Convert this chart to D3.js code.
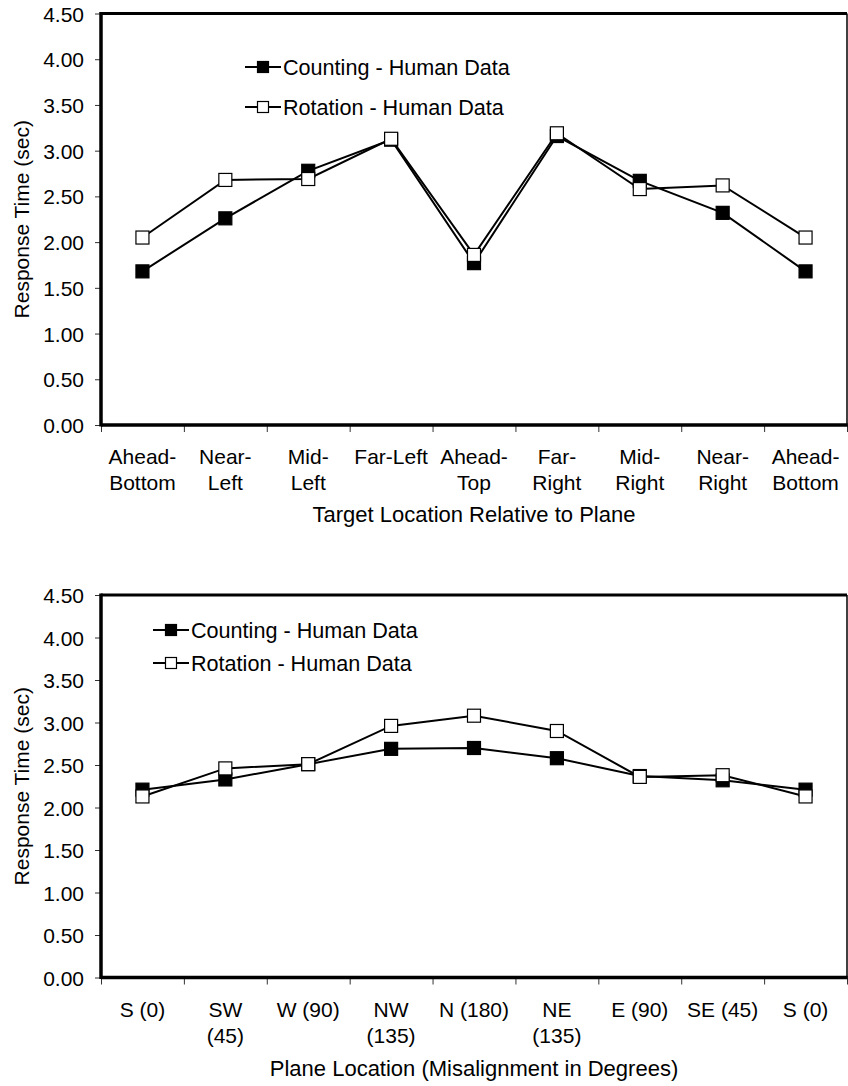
<!DOCTYPE html>
<html>
<head>
<meta charset="utf-8">
<script src="https://cdn.jsdelivr.net/npm/d3@7"></script>
<style>
  html, body { margin: 0; padding: 0; background: #fff; }
  svg { display: block; }
  text { font-family: "Liberation Sans", Arial, Helvetica, sans-serif; fill: #000; }
</style>
</head>
<body>
<svg id="chart" width="848" height="1086"></svg>
<script>
// Response-time data (seconds) for the two strategies
const targetLocations = [
  ["Ahead-", "Bottom"], ["Near-", "Left"], ["Mid-", "Left"], ["Far-Left"],
  ["Ahead-", "Top"], ["Far-", "Right"], ["Mid-", "Right"], ["Near-", "Right"], ["Ahead-", "Bottom"]
];
const countingByTarget = [1.68, 2.26, 2.78, 3.12, 1.77, 3.16, 2.67, 2.32, 1.68];
const rotationByTarget = [2.05, 2.68, 2.69, 3.13, 1.86, 3.19, 2.58, 2.62, 2.05];

const planeLocations = [
  ["S (0)"], ["SW", "(45)"], ["W (90)"], ["NW", "(135)"], ["N (180)"],
  ["NE", "(135)"], ["E (90)"], ["SE (45)"], ["S (0)"]
];
const countingByPlane = [2.21, 2.33, 2.51, 2.69, 2.70, 2.58, 2.37, 2.32, 2.21];
const rotationByPlane = [2.13, 2.46, 2.51, 2.96, 3.08, 2.90, 2.36, 2.38, 2.13];

const yTicks = [0, 0.5, 1, 1.5, 2, 2.5, 3, 3.5, 4, 4.5];
const seriesNames = ["Counting - Human Data", "Rotation - Human Data"];
const yTitle = "Response Time (sec)";
const xTitleTop = "Target Location Relative to Plane";
const xTitleBottom = "Plane Location (Misalignment in Degrees)";

const svg = d3.select("#chart");
const FS = 21;        // tick and category labels
const FS_TITLE = 22;  // x-axis titles
const FS_LEGEND = 21.6;

function drawPanel(opts) {
  const left = 101, right = 847;
  const { top, bottom, cats, counting, rotation, legendX, legendY, legendGap,
          labelY, labelGap, titleY, xTitle } = opts;
  const g = svg.append("g");

  const x = d3.scaleLinear().domain([0, cats.length]).range([left, right]);
  const y = d3.scaleLinear().domain([0, 4.5]).range([bottom, top]);

  // y axis ticks and labels
  const yAxis = d3.axisLeft(y).tickValues(yTicks).tickFormat(d3.format(".2f")).tickSize(6).tickSizeOuter(0);
  const ya = g.append("g").attr("transform", `translate(${left},0)`).call(yAxis);
  ya.select(".domain").remove();
  ya.selectAll(".tick line").attr("stroke", "#333").attr("stroke-width", 1);
  ya.selectAll(".tick text").attr("x", -17).attr("dy", "0.36em")
    .style("font-size", FS + "px").style("font-family", "Liberation Sans, Arial, sans-serif");

  // x axis ticks at category boundaries
  const xAxis = d3.axisBottom(x).tickValues(d3.range(0, cats.length + 1)).tickFormat("").tickSize(7).tickSizeOuter(0);
  const xa = g.append("g").attr("transform", `translate(0,${bottom})`).call(xAxis);
  xa.select(".domain").remove();
  xa.selectAll(".tick line").attr("stroke", "#333").attr("stroke-width", 1);

  // category labels (one or two lines each)
  const lab = g.append("g");
  cats.forEach((lines, i) => {
    const t = lab.append("text").attr("text-anchor", "middle")
      .attr("x", x(i + 0.5)).attr("y", labelY).style("font-size", FS + "px");
    lines.forEach((ln, k) => {
      t.append("tspan").attr("x", x(i + 0.5)).attr("y", labelY + k * labelGap).text(ln);
    });
  });

  // frame
  g.append("line").attr("x1", left).attr("x2", right).attr("y1", top).attr("y2", top)
    .attr("stroke", "#000").attr("stroke-width", 3);
  g.append("line").attr("x1", right).attr("x2", right).attr("y1", top).attr("y2", bottom)
    .attr("stroke", "#000").attr("stroke-width", 1.5);
  g.append("line").attr("x1", left).attr("x2", left).attr("y1", top - 1.5).attr("y2", bottom + 1.5)
    .attr("stroke", "#000").attr("stroke-width", 3.5);
  g.append("line").attr("x1", left).attr("x2", right + 0.75).attr("y1", bottom).attr("y2", bottom)
    .attr("stroke", "#000").attr("stroke-width", 3.5);

  // axis titles
  g.append("text").attr("text-anchor", "middle")
    .attr("transform", `translate(29,${(top + bottom) / 2}) rotate(-90)`)
    .style("font-size", FS + "px").text(yTitle);
  g.append("text").attr("text-anchor", "middle").attr("x", (left + right) / 2).attr("y", titleY)
    .style("font-size", FS_TITLE + "px").text(xTitle);

  // series
  const line = d3.line().x((d, i) => x(i + 0.5)).y(d => y(d));
  const series = [
    { values: counting, fill: "#000" },
    { values: rotation, fill: "#fff" }
  ];
  const M = 13;
  series.forEach(s => {
    g.append("path").datum(s.values).attr("d", line)
      .attr("fill", "none").attr("stroke", "#000").attr("stroke-width", 2);
    g.append("g").selectAll("rect").data(s.values).join("rect")
      .attr("x", (d, i) => x(i + 0.5) - M / 2).attr("y", d => y(d) - M / 2)
      .attr("width", M).attr("height", M)
      .attr("fill", s.fill).attr("stroke", "#000").attr("stroke-width", 1.2);
  });

  // legend
  const L = 11;
  series.forEach((s, k) => {
    const ly = legendY + k * legendGap;
    const lg = g.append("g");
    lg.append("line").attr("x1", legendX).attr("x2", legendX + 36).attr("y1", ly).attr("y2", ly)
      .attr("stroke", "#000").attr("stroke-width", 2);
    lg.append("rect").attr("x", legendX + 18 - L / 2).attr("y", ly - L / 2)
      .attr("width", L).attr("height", L)
      .attr("fill", s.fill).attr("stroke", "#000").attr("stroke-width", 1.2);
    lg.append("text").attr("x", legendX + 38).attr("y", ly).attr("dy", "0.36em")
      .style("font-size", FS_LEGEND + "px").text(seriesNames[k]);
  });
}

drawPanel({
  top: 13.5, bottom: 425, cats: targetLocations,
  counting: countingByTarget, rotation: rotationByTarget,
  legendX: 245, legendY: 67, legendGap: 40,
  labelY: 464, labelGap: 26, titleY: 522, xTitle: xTitleTop
});

drawPanel({
  top: 595, bottom: 977.5, cats: planeLocations,
  counting: countingByPlane, rotation: rotationByPlane,
  legendX: 153, legendY: 630, legendGap: 33,
  labelY: 1017, labelGap: 26, titleY: 1076, xTitle: xTitleBottom
});
</script>
</body>
</html>
